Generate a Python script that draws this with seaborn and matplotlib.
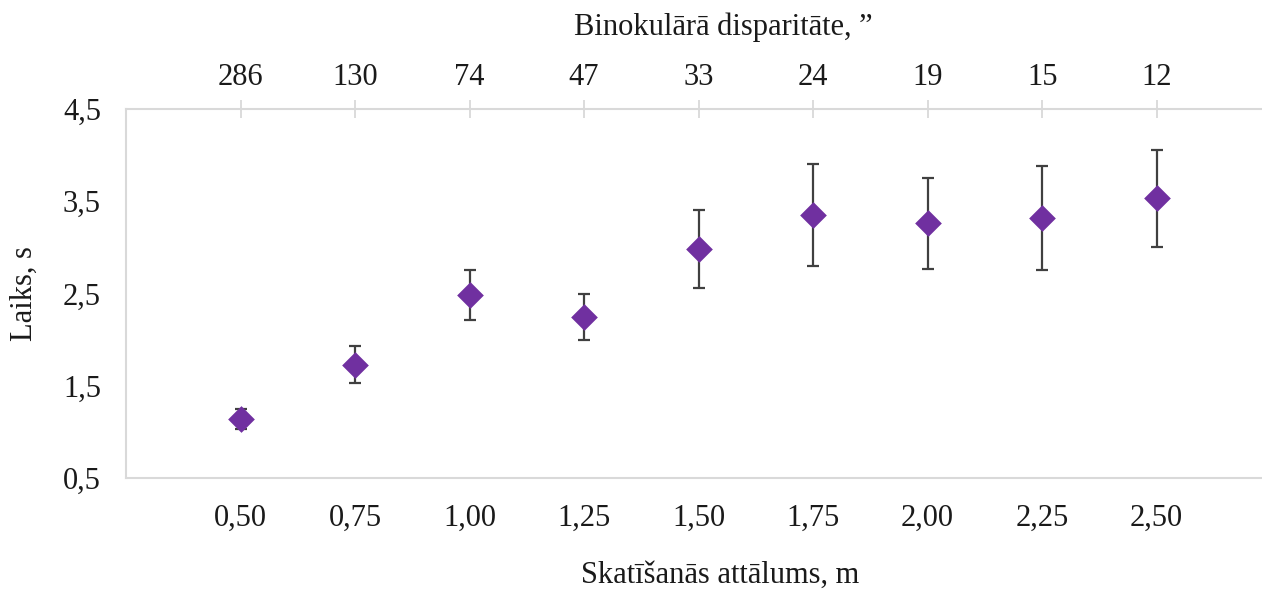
import numpy as np
import matplotlib
matplotlib.use("Agg")
import matplotlib.pyplot as plt
import seaborn as sns
import pandas as pd

# ========= DATA =========
distance = [0.50, 0.75, 1.00, 1.25, 1.50, 1.75, 2.00, 2.25, 2.50]
disparity = [286, 130, 74, 47, 33, 24, 19, 15, 12]
time_mean = [1.14, 1.73, 2.48, 2.25, 2.98, 3.35, 3.26, 3.32, 3.53]
time_err = [0.11, 0.20, 0.27, 0.25, 0.42, 0.55, 0.49, 0.56, 0.53]
y_ticks = [0.5, 1.5, 2.5, 3.5, 4.5]

df = pd.DataFrame({"distance": distance, "time": time_mean, "err": time_err})

# ========= STYLE =========
sns.set_theme(style="white")
plt.rcParams["font.family"] = ["Liberation Serif", "DejaVu Serif"]

axis_col = "#D9D9D9"
purple = "#7030A0"
text_col = "#1a1a1a"
fs = 22

fig = plt.figure(figsize=(12.62, 5.89), dpi=100)
ax = fig.add_axes([126 / 1262, 111 / 589, 1 - 126 / 1262, 369 / 589])

# error bars first so the diamonds sit on top
ax.errorbar(df["distance"], df["time"], yerr=df["err"], fmt="none",
            ecolor="#404040", elinewidth=1.6, capsize=4.5, capthick=1.6, zorder=2)
sns.scatterplot(data=df, x="distance", y="time", marker="D", s=185,
                color=purple, edgecolor=purple, linewidth=0, ax=ax, zorder=3)

ax.set_xlim(0.25, 2.73)
ax.set_ylim(0.5, 4.5)

ax.set_xticks(distance, labels=[f"{d:.2f}".replace(".", ",") for d in distance])
ax.set_yticks(y_ticks, labels=[f"{v:.1f}".replace(".", ",") for v in y_ticks])

for side in ["left", "bottom"]:
    ax.spines[side].set_color(axis_col)
    ax.spines[side].set_linewidth(1.5)
ax.spines["right"].set_visible(False)
ax.spines["top"].set_visible(False)

ax.tick_params(axis="x", direction="inout", length=13, width=1.3, color=axis_col,
               labelsize=fs, labelcolor=text_col, pad=12)
ax.tick_params(axis="y", direction="inout", length=12, width=1.3, color=axis_col,
               labelsize=fs, labelcolor=text_col, pad=12)

ax.set_xlabel("Skatīšanās attālums, m", fontsize=fs, color=text_col)
ax.xaxis.set_label_coords((720 - 126) / (1262 - 126), -0.225)
ax.set_ylabel("Laiks, s", fontsize=fs, color=text_col)
ax.yaxis.set_label_coords(-0.077, 0.5)

# top axis with binocular disparity
secax = ax.secondary_xaxis("top")
secax.set_xticks(distance, labels=[str(d) for d in disparity])
secax.spines["top"].set_color(axis_col)
secax.spines["top"].set_linewidth(1.5)
secax.tick_params(axis="x", direction="inout", length=13, width=1.3, color=axis_col,
                  labelsize=fs, labelcolor=text_col, pad=6)
fig.text(723 / 1262, 1 - 27 / 589, "Binokulārā disparitāte, ”", fontsize=fs,
         color=text_col, ha="center", va="center")

ax.grid(False)

plt.savefig("out.png", dpi=100)
